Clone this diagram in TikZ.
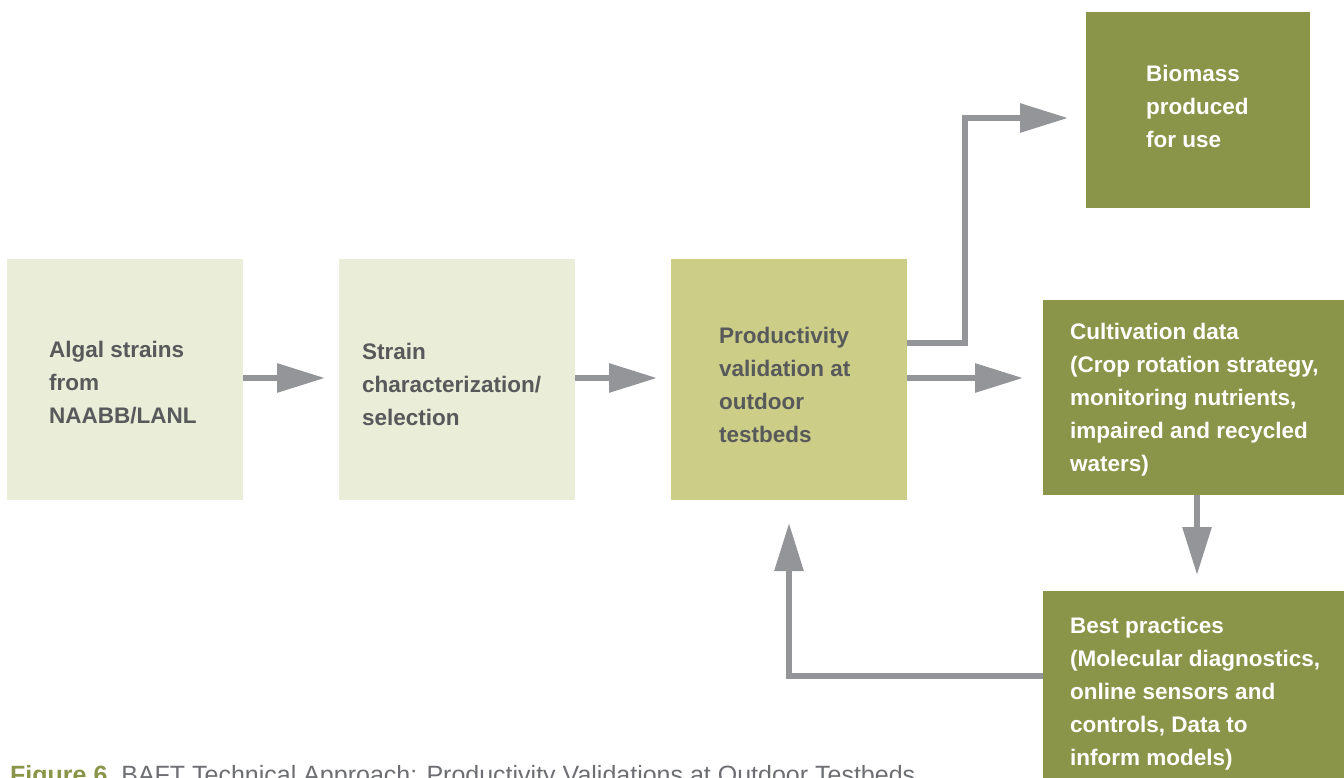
\documentclass[tikz,border=0pt]{standalone}
\usepackage{fontspec}
\setmainfont{Liberation Sans}
\usetikzlibrary{arrows.meta,calc}
\definecolor{lightbox}{HTML}{EAEDD7}
\definecolor{midbox}{HTML}{CCCD87}
\definecolor{darkbox}{HTML}{8A9549}
\definecolor{arrgray}{HTML}{939598}
\definecolor{txtgray}{HTML}{58595B}
\definecolor{capgray}{HTML}{6D6E71}
\tikzset{
  box/.style={rectangle,draw=none,inner sep=0pt},
  lbl/.style={anchor=base west,inner sep=0pt,align=left,font=\fontsize{22.5}{33}\selectfont\bfseries},
  arr/.style={draw=arrgray,line width=6pt,-{Triangle[length=48pt,width=28pt]}},
}
\begin{document}
\begin{tikzpicture}[x=1pt,y=-1pt]
\useasboundingbox (0,0) rectangle (1344,778);
% boxes
\node[box,fill=lightbox,minimum width=236pt,minimum height=241pt] (A) at (125,379.5) {};
\node[box,fill=lightbox,minimum width=236pt,minimum height=241pt] (B) at (457,379.5) {};
\node[box,fill=midbox,minimum width=236pt,minimum height=241pt] (C) at (789,379.5) {};
\node[box,fill=darkbox,minimum width=224pt,minimum height=196pt] (D) at (1198,110) {};
\node[box,fill=darkbox,minimum width=310pt,minimum height=195pt] (E) at (1198,397.5) {};
\node[box,fill=darkbox,minimum width=310pt,minimum height=200pt] (F) at (1198,691) {};
% labels (anchored at the baseline of the last line)
\node[lbl,text=txtgray] (tA) at (49,423) {Algal strains\\from\\NAABB/LANL};
\node[lbl,text=txtgray] (tB) at (362,425) {Strain\\characterization/\\selection};
\node[lbl,text=txtgray] (tC) at (719,442) {Productivity\\validation at\\outdoor\\testbeds};
\node[lbl,text=white] (tD) at (1146,148) {Biomass\\produced\\for use};
\node[lbl,text=white] (tE) at (1070,471) {Cultivation data\\(Crop rotation strategy,\\monitoring nutrients,\\impaired and recycled\\waters)};
\node[lbl,text=white] (tF) at (1070,765) {Best practices\\(Molecular diagnostics,\\online sensors and\\controls, Data to\\inform models)};
% connector ends
\coordinate (eB) at (325,378);
\coordinate (eC) at (657,378);
\coordinate (eE) at (1023,378);
\coordinate (eD) at (1068,118);
\coordinate (eF) at (1197,575);
\coordinate (eCf) at (789,523);
% arrows
\draw[arr] (A.east |- eB) -- (eB);
\draw[arr] (B.east |- eC) -- (eC);
\draw[arr] (C.east |- eE) -- (eE);
\draw[arr] ($(C.east)+(0,-36.5)$) -| (965,118) -- (eD);
\draw[arr] (E.south -| eF) -- (eF);
\draw[arr] ($(F.west)+(0,-15)$) -| (eCf);
% caption
\node[anchor=base west,inner sep=0pt,font=\fontsize{25}{30}\selectfont] (cap) at (10,783)
  {\textcolor{darkbox}{\bfseries Figure 6.}\ \textcolor{capgray}{BAFT Technical Approach: Productivity Validations at Outdoor Testbeds}};
\end{tikzpicture}
\end{document}
